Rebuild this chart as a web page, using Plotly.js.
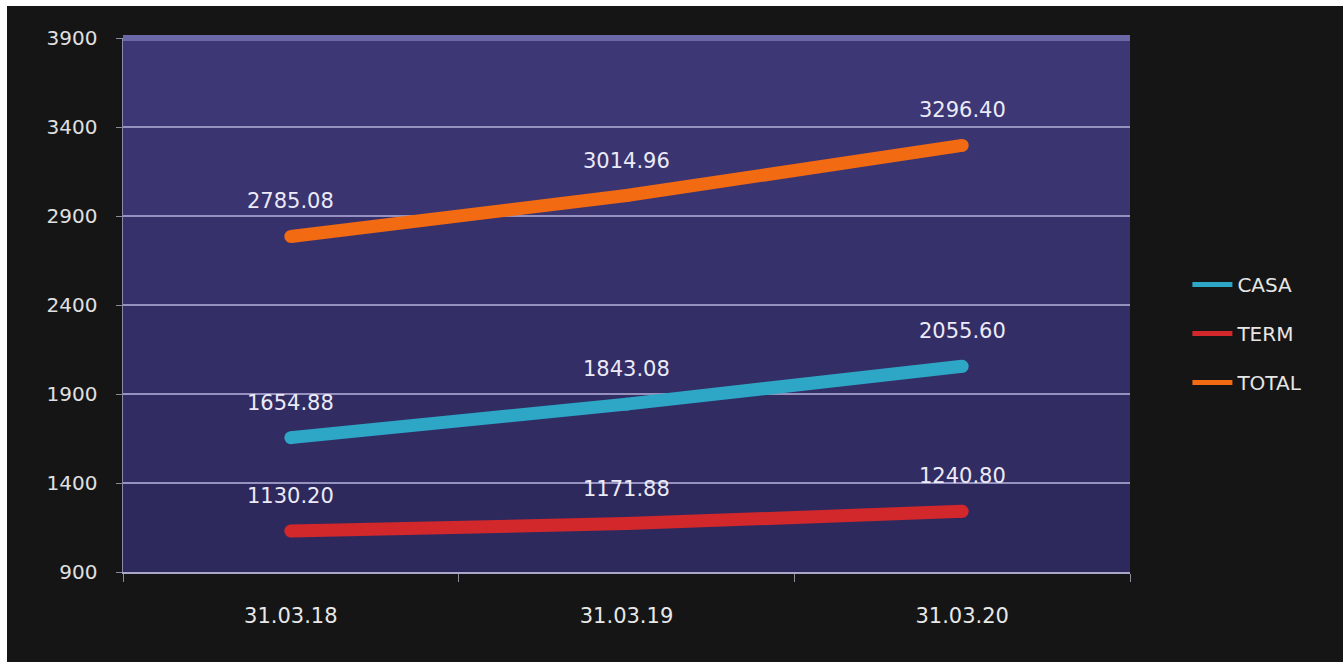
<!DOCTYPE html>
<html><head><meta charset="utf-8">
<script src="https://cdn.plot.ly/plotly-3.0.1.min.js"></script>
<style>
html,body{margin:0;padding:0;background:#ffffff;}
#chart{position:absolute;left:7px;top:6px;width:1336px;height:656px;}
</style></head>
<body><div id="chart"></div>
<script>
const categories = ['31.03.18','31.03.19','31.03.20'];
const casa  = [1654.88, 1843.08, 2055.60];
const term  = [1130.20, 1171.88, 1240.80];
const total = [2785.08, 3014.96, 3296.40];
const seriesNames = ['CASA','TERM','TOTAL'];
const seriesColors = ['#2ea6c6','#d3282b','#f26a12'];
const yTicks = [900,1400,1900,2400,2900,3400,3900];

const seriesVals = [casa, term, total];
const traces = [];
seriesVals.forEach((vals,i)=>{
  traces.push({x:categories, y:vals, type:'scatter', mode:'lines+markers',
    line:{color:seriesColors[i], width:13}, marker:{color:seriesColors[i], size:13},
    showlegend:false, hoverinfo:'skip'});
});
seriesVals.forEach((vals,i)=>{
  traces.push({x:[null], y:[null], type:'scatter', mode:'lines', name:seriesNames[i],
    legendgroup:seriesNames[i], line:{color:seriesColors[i], width:5}, showlegend:true});
});
const annotations = [];
seriesVals.forEach(vals=>{
  vals.forEach((v,j)=>{
    annotations.push({x:categories[j], y:v, text:v.toFixed(2), showarrow:false,
      yshift:35, font:{family:'DejaVu Sans, sans-serif', size:21, color:'#eceaf6'}});
  });
});
const bands = [];
const bandColors = ['#3d3775','#3a3470','#37316b','#342e66','#312c62','#2e295d'];
bandColors.forEach((c,k)=>{
  bands.push({type:'rect', xref:'paper', yref:'paper', x0:0, x1:1,
    y0:1-(k+1)/bandColors.length, y1:1-k/bandColors.length, fillcolor:c, line:{width:0}, layer:'below'});
});
bands.push({type:'line', xref:'paper', yref:'paper', x0:0, x1:1, y0:1, y1:1, line:{color:'#6b68a8', width:6}, layer:'below'});

const layout = {
  width:1336, height:656,
  paper_bgcolor:'#151515', plot_bgcolor:'#37316b',
  margin:{l:116, r:213, t:32, b:90},
  font:{family:'DejaVu Sans, sans-serif', color:'#e4e4e4'},
  xaxis:{type:'category', range:[-0.5,2.5], showgrid:false, zeroline:false,
    tickson:'boundaries', ticks:'outside', ticklen:8, tickcolor:'#8a8a9a', tickwidth:1,
    showline:true, linecolor:'#a9a7c9', linewidth:2,
    tickfont:{size:21, color:'#e8e8e8'}, ticklabelstandoff:24},
  yaxis:{range:[900,3900], tickvals:yTicks, ticktext:yTicks.map(String),
    showgrid:true, gridcolor:'#9592c0', gridwidth:1.5, zeroline:false,
    ticks:'outside', ticklen:6, tickcolor:'#8a8a9a',
    showline:true, linecolor:'#8d8aa8', linewidth:1.5,
    tickfont:{size:20, color:'#e0e0e0'}, ticklabelstandoff:14},
  legend:{x:1.057, y:0.575, xanchor:'left', yanchor:'top', traceorder:'grouped',
    tracegroupgap:20, font:{size:20, color:'#e6e6e6'}, bgcolor:'rgba(0,0,0,0)', itemwidth:40},
  shapes:bands,
  annotations:annotations,
  showlegend:true
};
Plotly.newPlot('chart', traces, layout, {displayModeBar:false, staticPlot:true});
</script></body></html>
